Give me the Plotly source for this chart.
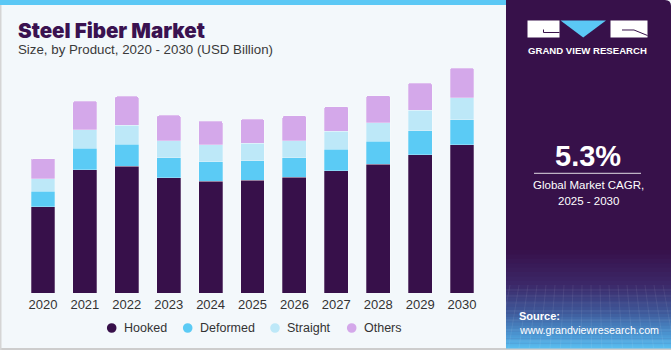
import plotly.graph_objects as go

years = ["2020", "2021", "2022", "2023", "2024", "2025", "2026", "2027", "2028", "2029", "2030"]
hooked = [1.21, 1.72, 1.77, 1.61, 1.56, 1.58, 1.62, 1.71, 1.80, 1.93, 2.07]
deformed = [0.21, 0.30, 0.31, 0.28, 0.275, 0.27, 0.27, 0.30, 0.32, 0.335, 0.35]
straight = [0.18, 0.26, 0.265, 0.24, 0.237, 0.24, 0.237, 0.25, 0.26, 0.29, 0.31]
others = [0.28, 0.40, 0.40, 0.35, 0.33, 0.335, 0.35, 0.345, 0.377, 0.377, 0.41]
series_names = ["Hooked", "Deformed", "Straight", "Others"]
series_colors = ["#37104A", "#5BCBF5", "#BDE8F8", "#D4A8EA"]
callout_year = "2024"
callout_text = "$2.4B"

W, H = 671, 350
L, R, T, B = 22, 483, 60, 293.3
PH = B - T
PX_PER_B = 71.7


def xp(px):
    return px / W


def yp(py):
    return 1 - py / H


fig = go.Figure()
for name, vals, col in zip(series_names, [hooked, deformed, straight, others], series_colors):
    fig.add_trace(go.Bar(x=years, y=vals, name=name, marker_color=col,
                         marker_line=dict(color="rgba(255,255,255,0.45)", width=0.6),
                         showlegend=False, width=0.57))

shapes = []
# borders
shapes.append(dict(type="rect", xref="paper", yref="paper", x0=xp(0), x1=xp(671), y0=yp(350), y1=yp(348),
                   fillcolor="#CDCDCD", line_width=0, layer="below"))
shapes.append(dict(type="rect", xref="paper", yref="paper", x0=xp(0), x1=xp(1.5), y0=yp(350), y1=yp(0),
                   fillcolor="#D5D5D5", line_width=0, layer="below"))
# top strip
shapes.append(dict(type="rect", xref="paper", yref="paper", x0=xp(0), x1=xp(507), y0=yp(5), y1=yp(0),
                   fillcolor="#5BC8F5", line_width=0, layer="below"))
# right panel with rounded top-right corner
rc = 6
panel_path = ("M %f,%f L %f,%f Q %f,%f %f,%f L %f,%f L %f,%f Z" % (
    xp(506), yp(0), xp(671 - rc), yp(0), xp(671), yp(0), xp(671), yp(rc),
    xp(671), yp(348), xp(506), yp(348)))
shapes.append(dict(type="path", xref="paper", yref="paper", path=panel_path,
                   fillcolor="#37114A", line_width=0, layer="below"))


def lerp(c1, c2, t):
    return "rgb(%d,%d,%d)" % tuple(round(a + (b - a) * t) for a, b in zip(c1, c2))


stops = [(250, (55, 17, 74)), (285, (60, 40, 105)), (310, (62, 85, 150)), (335, (75, 150, 210)), (348, (90, 190, 240))]
for i in range(len(stops) - 1):
    (ya, ca), (yb, cb) = stops[i], stops[i + 1]
    n = 8
    for k in range(n):
        y0 = ya + (yb - ya) * k / n
        y1 = ya + (yb - ya) * (k + 1) / n
        shapes.append(dict(type="rect", xref="paper", yref="paper", x0=xp(506), x1=xp(671),
                           y0=yp(y1 + 0.5), y1=yp(y0), fillcolor=lerp(ca, cb, (k + 0.5) / n),
                           line_width=0, layer="below"))
# faint grid texture
for gx in range(510, 671, 9):
    shapes.append(dict(type="line", xref="paper", yref="paper", x0=xp(gx), x1=xp(gx + (gx - 588) * 0.15),
                       y0=yp(285), y1=yp(348), line=dict(color="rgba(255,255,255,0.10)", width=0.7), layer="below"))
for gy in [290, 296, 303, 311, 320, 330, 341]:
    shapes.append(dict(type="line", xref="paper", yref="paper", x0=xp(506), x1=xp(671),
                       y0=yp(gy), y1=yp(gy), line=dict(color="rgba(255,255,255,0.10)", width=0.7), layer="below"))
# logo
shapes.append(dict(type="rect", xref="paper", yref="paper", x0=xp(527.5), x1=xp(559.5), y0=yp(37.5), y1=yp(20.5),
                   fillcolor="white", line_width=0))
shapes.append(dict(type="rect", xref="paper", yref="paper", x0=xp(610.5), x1=xp(647.5), y0=yp(37.5), y1=yp(20.5),
                   fillcolor="white", line_width=0))
shapes.append(dict(type="path", xref="paper", yref="paper",
                   path="M %f,%f L %f,%f L %f,%f Z" % (xp(560.5), yp(20.5), xp(606), yp(20.5), xp(583.2), yp(37.5)),
                   fillcolor="#5BC8F5", line_width=0))
shapes.append(dict(type="path", xref="paper", yref="paper",
                   path="M %f,%f L %f,%f L %f,%f" % (xp(543.5), yp(29.5), xp(543.5), yp(32.5), xp(559.5), yp(32.5)),
                   line=dict(color="#37114A", width=1)))
shapes.append(dict(type="path", xref="paper", yref="paper",
                   path="M %f,%f L %f,%f L %f,%f" % (xp(622), yp(30), xp(634), yp(30), xp(647.5), yp(35.5)),
                   line=dict(color="#37114A", width=1)))
# CAGR separator line
shapes.append(dict(type="line", xref="paper", yref="paper", x0=xp(534), x1=xp(641), y0=yp(173.3), y1=yp(173.3),
                   line=dict(color="rgba(255,255,255,0.85)", width=1)))

ann = []
FONT = "Liberation Sans"
ann.append(dict(text="Steel Fiber Market", x=xp(16), y=yp(30), xref="paper", yref="paper",
                xanchor="left", yanchor="middle", showarrow=False,
                font=dict(family="Inter", size=20.5, weight=900, color="#3A1250")))
ann.append(dict(text="Size, by Product, 2020 - 2030 (USD Billion)", x=xp(16), y=yp(50), xref="paper", yref="paper",
                xanchor="left", yanchor="middle", showarrow=False,
                font=dict(family=FONT, size=13.3, color="#3A3A3A")))
idx = years.index(callout_year)
total = hooked[idx] + deformed[idx] + straight[idx] + others[idx]
ann.append(dict(text=callout_text, x=callout_year, y=total, xref="x", yref="y", xanchor="center", yanchor="bottom",
                yshift=5, showarrow=False, font=dict(family=FONT, size=13, color="#333333")))
ann.append(dict(text="<b>GRAND VIEW RESEARCH</b>", x=xp(587.5), y=yp(51), xref="paper", yref="paper",
                xanchor="center", yanchor="middle", showarrow=False,
                font=dict(family=FONT, size=9.6, color="white")))
ann.append(dict(text="<b>5.3%</b>", x=xp(588), y=yp(156.5), xref="paper", yref="paper",
                xanchor="center", yanchor="middle", showarrow=False,
                font=dict(family=FONT, size=29, color="white")))
ann.append(dict(text="Global Market CAGR,", x=xp(588), y=yp(185), xref="paper", yref="paper",
                xanchor="center", yanchor="middle", showarrow=False,
                font=dict(family=FONT, size=11.5, color="white")))
ann.append(dict(text="2025 - 2030", x=xp(588), y=yp(201), xref="paper", yref="paper",
                xanchor="center", yanchor="middle", showarrow=False,
                font=dict(family=FONT, size=11.5, color="white")))
ann.append(dict(text="<b>Source:</b>", x=xp(517), y=yp(316), xref="paper", yref="paper",
                xanchor="left", yanchor="middle", showarrow=False,
                font=dict(family=FONT, size=11, color="white")))
ann.append(dict(text="www.grandviewresearch.com", x=xp(517), y=yp(330), xref="paper", yref="paper",
                xanchor="left", yanchor="middle", showarrow=False,
                font=dict(family=FONT, size=10.7, color="white")))

# legend (drawn in the page coordinates)
legend_marker_x = [111.7, 187.7, 275, 351.7]
legend_y = 328
for name, col, mx in zip(series_names, series_colors, legend_marker_x):
    r = 4.8
    shapes.append(dict(type="circle", xref="paper", yref="paper", x0=xp(mx - r), x1=xp(mx + r),
                       y0=yp(legend_y + r), y1=yp(legend_y - r), fillcolor=col, line_width=0))
    ann.append(dict(text=name, x=xp(mx + 10), y=yp(legend_y), xref="paper", yref="paper",
                    xanchor="left", yanchor="middle", showarrow=False,
                    font=dict(family=FONT, size=12.5, color="#333333")))

fig.update_layout(
    width=W, height=H,
    margin=dict(l=0, r=0, t=0, b=0, pad=0),
    paper_bgcolor="#F3F8FB", plot_bgcolor="rgba(0,0,0,0)",
    barmode="stack", bargap=0.43, barcornerradius=2,
    shapes=shapes, annotations=ann, showlegend=False,
    xaxis=dict(domain=[L / W, R / W], type="category", range=[-0.5, 10.5], showgrid=False, showline=False,
               zeroline=False, ticks="", tickfont=dict(family=FONT, size=13, color="#333333"),
               ticklabelstandoff=2, automargin=False),
    yaxis=dict(domain=[1 - B / H, 1 - T / H], range=[0, PH / PX_PER_B], visible=False, showgrid=False,
               automargin=False),
)

fig.write_html("out.html")
